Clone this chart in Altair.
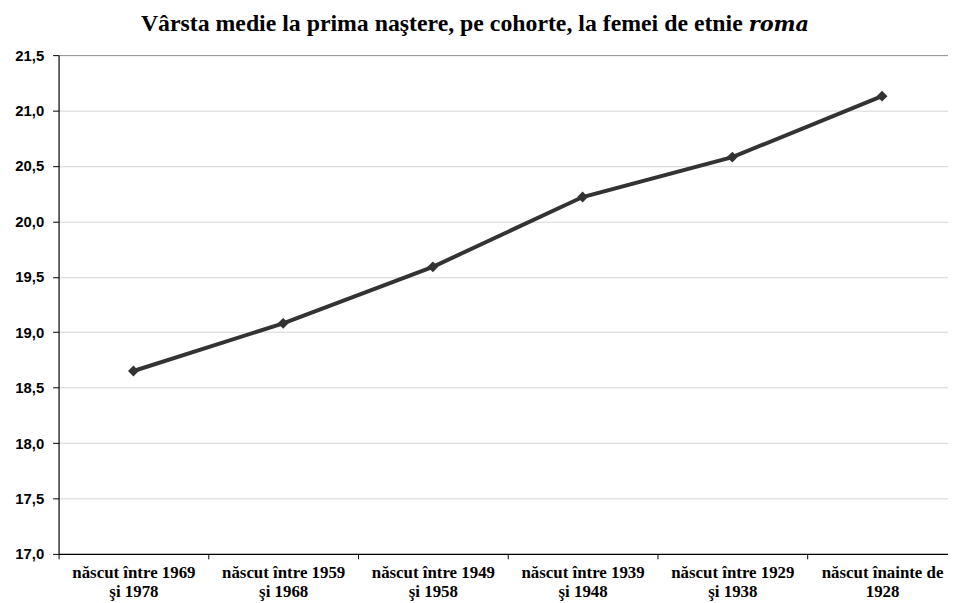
import altair as alt
import pandas as pd

categories = [
    "născut între 1969\nşi 1978",
    "născut între 1959\nşi 1968",
    "născut între 1949\nşi 1958",
    "născut între 1939\nşi 1948",
    "născut între 1929\nşi 1938",
    "născut înainte de\n1928",
]
values = [18.65, 19.08, 19.59, 20.22, 20.58, 21.13]
y_ticks = [17.0, 17.5, 18.0, 18.5, 19.0, 19.5, 20.0, 20.5, 21.0, 21.5]
title_main = "Vârsta medie la prima naştere, pe cohorte, la femei de etnie"
title_italic = "roma"

SERIF = "Times New Roman, Liberation Serif, serif"

df = pd.DataFrame({"cohort": categories, "age": values})

x_enc = alt.X(
    "cohort:N",
    sort=categories,
    title=None,
    bandPosition=0.5,
    scale=alt.Scale(type="band", range=[0, 906], paddingInner=0, paddingOuter=0),
    axis=alt.Axis(
        labelExpr="split(datum.label, '\\n')",
        labelAngle=0,
        labelFont=SERIF,
        labelFontWeight="bold",
        labelFontSize=17,
        labelLineHeight=19,
        labelColor="black",
        labelPadding=6,
        labelLimit=0,
        labelOverlap=False,
        tickBand="extent",
        tickSize=5,
        tickColor="black",
        domainColor="black",
        domainWidth=1.2,
        grid=False,
    ),
)

y_enc = alt.Y(
    "age:Q",
    title=None,
    scale=alt.Scale(domain=[17.0, 21.5], nice=False, zero=False),
    axis=alt.Axis(
        values=y_ticks,
        format=".1f",
        labelExpr="replace(datum.label, '.', ',')",
        labelFont="Liberation Sans",
        labelFontWeight="bold",
        labelFontSize=15,
        labelColor="black",
        labelPadding=9,
        tickSize=6,
        tickColor="black",
        domainColor="black",
        domainWidth=1.2,
        grid=True,
        gridColor=alt.condition("datum.value == 21.5", alt.value("#8a8a8a"), alt.value("#d4d4d4")),
        gridWidth=1,
    ),
)

base = alt.Chart(df)
line = base.mark_line(color="#333333", strokeWidth=4).encode(x=x_enc, y=y_enc)
pts = base.mark_point(shape="diamond", filled=True, color="#333333", size=120, opacity=1).encode(x=x_enc, y=y_enc)

t1 = alt.Chart(pd.DataFrame({"t": [title_main]})).mark_text(
    font=SERIF, fontWeight="bold", fontSize=24, align="right",
    baseline="alphabetic", color="black"
).encode(x=alt.value(690), y=alt.value(-24), text="t:N")

t2 = alt.Chart(pd.DataFrame({"t": [title_italic]})).mark_text(
    font="DejaVu Serif", fontWeight="bold", fontStyle="italic", fontSize=21, align="left",
    baseline="alphabetic", color="black"
).encode(x=alt.value(696), y=alt.value(-24), text="t:N")

chart = alt.layer(line, pts, t1, t2).properties(
    width=897,
    height=503,
    autosize=alt.AutoSizeParams(type="none"),
    padding={"left": 51, "top": 45, "right": 0, "bottom": 47},
    background="white",
).configure_view(stroke=None)

chart.save("out.html", embed_options={"renderer": "svg", "actions": False})
